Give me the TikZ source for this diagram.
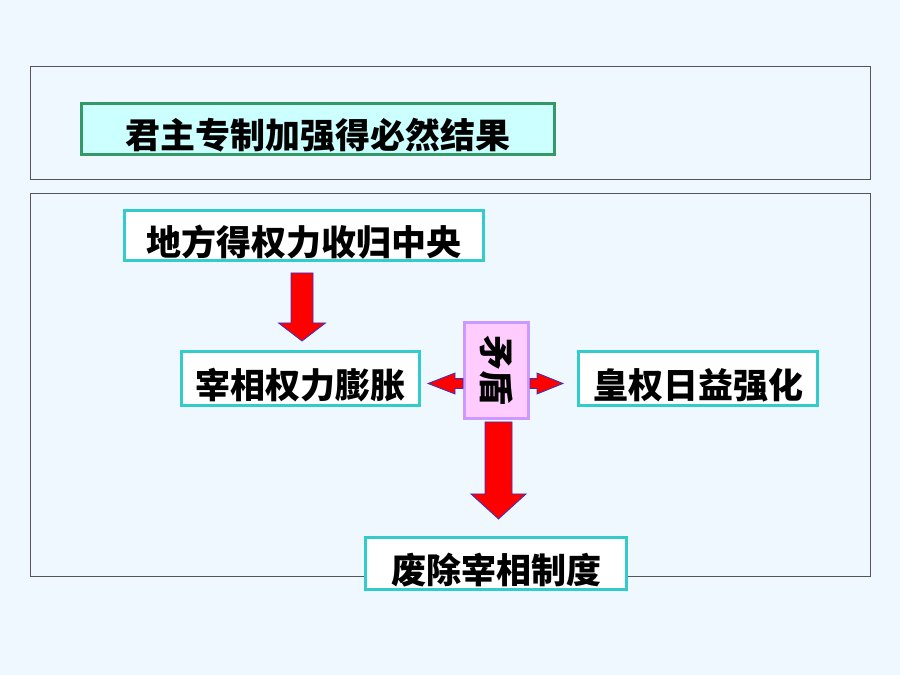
\documentclass[tikz,border=0pt]{standalone}
\usepackage{fontspec}
\newfontfamily\cjk{Noto Sans CJK SC}
\usetikzlibrary{calc}
\definecolor{pagebg}{HTML}{F0F8FF}
\definecolor{tealline}{HTML}{33CCCC}
\definecolor{greenline}{HTML}{339966}
\definecolor{cyanfill}{HTML}{CCFFFF}
\definecolor{pinkfill}{HTML}{FFCCFF}
\definecolor{lilacline}{HTML}{CC99FF}
\definecolor{arrowblue}{HTML}{3333CC}
\definecolor{frameline}{HTML}{555555}
\begin{document}
\begin{tikzpicture}[
		x=1pt, y=1pt,
		plain/.style={line width=3pt, font=\cjk\bfseries\fontsize{35}{40}\selectfont, inner sep=0pt},
		base/.style={plain, draw=tealline, fill=white, text height=40pt, text depth=0pt},
		titlebox/.style={base, draw=greenline, fill=cyanfill},
		clashbox/.style={plain, draw=lilacline, fill=pinkfill},
		frame/.style={draw=frameline, line width=1pt},
		fat/.style={fill=red, draw=arrowblue, line width=0.8pt, line join=miter}
	]

	\useasboundingbox[fill=pagebg] (0,0) rectangle (900,675);

	\draw[frame] (30,608) rectangle (870,495);
	\draw[frame] (30,481) rectangle (870,98);

	\node[titlebox, minimum width=473pt, minimum height=51pt] at (318,546) (title) {君主专制加强得必然结果};
	\node[base, minimum width=359pt, minimum height=50pt] at (304,439.5) (local) {地方得权力收归中央};
	\node[base, minimum width=238pt, minimum height=54pt] at (300.5,296.5) (premier) {宰相权力膨胀};
	\node[clashbox, minimum width=64pt, minimum height=96pt] at (496.5,304.5) (clash) {\rotatebox{-90}{矛盾}};
	\node[base, minimum width=239pt, minimum height=54pt] at (698,296.5) (emperor) {皇权日益强化};
	\node[base, minimum width=261pt, minimum height=52pt] at (496,111.5) (abolish) {废除宰相制度};

	\coordinate (s1) at ([xshift=-2pt, yshift=-11pt]local.south);
	\coordinate (e1) at ($(s1 |- premier.north)+(0,9)$);
	\coordinate (s2) at ([yshift=-13pt]clash.west);
	\coordinate (e2) at ($(s2 -| premier.east)+(7,0)$);
	\coordinate (s3) at ([yshift=-13pt]clash.east);
	\coordinate (e3) at ($(s3 -| emperor.west)+(-14,0)$);
	\coordinate (s4) at ([xshift=2pt, yshift=-2pt]clash.south);
	\coordinate (e4) at ($(s4 |- abolish.north)+(0,17)$);

	\foreach \s/\e/\w/\h/\l in {s1/e1/11pt/23.5pt/18pt, s2/e2/5pt/10.5pt/27pt, s3/e3/5pt/10.5pt/26pt, s4/e4/13.5pt/27.5pt/25pt}{
		\coordinate (h) at ($(\e)!\l!(\s)$);
		\draw[fat] ($(\s)!\w!90:(\e)$) -- ($(h)!\w!90:(\e)$) -- ($(h)!\h!90:(\e)$) -- (\e)
			-- ($(h)!\h!-90:(\e)$) -- ($(h)!\w!-90:(\e)$) -- ($(\s)!\w!-90:(\e)$) -- cycle;
	}

\end{tikzpicture}
\end{document}
